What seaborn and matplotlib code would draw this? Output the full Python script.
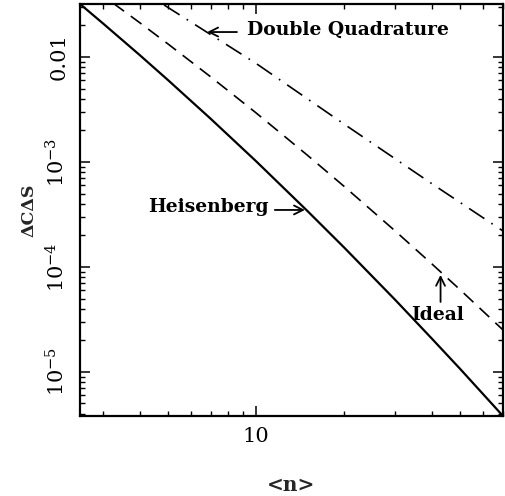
import numpy as np
import pandas as pd
import matplotlib
matplotlib.use("Agg")
import matplotlib.pyplot as plt
from matplotlib.ticker import LogLocator, NullFormatter, FixedLocator, FixedFormatter
import seaborn as sns

# ---- data ----
n_heis = [2.5, 3, 4, 5, 7, 10, 15, 20, 30, 40, 50, 70]
y_heis = [0.0320, 0.02084, 0.01045, 6.03e-3, 2.58e-3, 1.019e-3,
          3.41e-4, 1.537e-4, 4.83e-5, 2.07e-5, 1.064e-5, 3.8e-6]

n_ideal = [3.25, 4, 5, 7, 10, 15, 20, 30, 40, 50, 70]
y_ideal = [0.0325, 0.02125, 0.01332, 6.47e-3, 2.94e-3, 1.159e-3,
           5.87e-4, 2.19e-4, 1.067e-4, 6.04e-5, 2.51e-5]

n_dq = [4.85, 10, 20, 40, 70]
y_dq = [0.0313, 8.7e-3, 2.3e-3, 6.2e-4, 2.2e-4]

x_ticks = [10]
x_tick_labels = ["10"]
y_ticks = [1e-5, 1e-4, 1e-3, 1e-2]
y_tick_labels = ["$10^{-5}$", "$10^{-4}$", "$10^{-3}$", "0.01"]

sns.set_theme(style="ticks")
plt.rcParams["font.family"] = ["DejaVu Serif"]
plt.rcParams["mathtext.fontset"] = "dejavuserif"

W, H = 506, 496
fig = plt.figure(figsize=(W / 100, H / 100), dpi=100)
ax = fig.add_axes([80 / W, 1 - 416 / H, 423 / W, 412 / H])

df_h = pd.DataFrame({"n": n_heis, "v": y_heis})
df_i = pd.DataFrame({"n": n_ideal, "v": y_ideal})
df_d = pd.DataFrame({"n": n_dq, "v": y_dq})

sns.lineplot(data=df_h, x="n", y="v", ax=ax, color="black", lw=1.6,
             estimator=None, sort=False)
sns.lineplot(data=df_i, x="n", y="v", ax=ax, color="black", lw=1.2,
             linestyle=(0, (8, 5)), estimator=None, sort=False)
sns.lineplot(data=df_d, x="n", y="v", ax=ax, color="black", lw=1.2,
             linestyle=(0, (11, 5, 1, 5)), estimator=None, sort=False)

ax.set_xscale("log")
ax.set_yscale("log")
ax.set_xlim(2.5, 70)
ax.set_ylim(3.8e-6, 0.032)

ax.xaxis.set_major_locator(FixedLocator(x_ticks))
ax.xaxis.set_major_formatter(FixedFormatter(x_tick_labels))
ax.xaxis.set_minor_locator(LogLocator(base=10, subs=np.arange(2, 10), numticks=100))
ax.xaxis.set_minor_formatter(NullFormatter())
ax.yaxis.set_major_locator(FixedLocator(y_ticks))
ax.yaxis.set_major_formatter(FixedFormatter(y_tick_labels))
ax.yaxis.set_minor_locator(LogLocator(base=10, subs=np.arange(2, 10), numticks=100))
ax.yaxis.set_minor_formatter(NullFormatter())

ax.tick_params(which="both", direction="in", top=True, right=True,
               color="black", labelcolor="black")
ax.tick_params(which="major", length=7, width=1.1, labelsize=15, pad=8)
ax.tick_params(which="minor", length=3.6, width=1.0)
for lab in ax.get_yticklabels():
    lab.set_rotation(90)
    lab.set_va("center")
for s in ax.spines.values():
    s.set_linewidth(1.6)
    s.set_color("black")

ax.set_xlabel("<n>", fontsize=14.5, fontweight="bold")
ax.set_ylabel("ΔCΔS", fontsize=12.5, fontweight="bold")
ax.xaxis.set_label_coords(0.5, -(475 - 416) / 412)
ax.yaxis.set_label_coords(-(80 - 37) / 423, 0.5)

ann_kw = dict(fontsize=13.5, fontweight="bold", color="black")
arrow = dict(arrowstyle="->", color="black", lw=1.3, shrinkA=0, shrinkB=0,
             mutation_scale=16)

ax.text(9.31, 0.0181, "Double Quadrature", ha="left", va="center", **ann_kw)
ax.annotate("", xy=(6.81, 0.0173), xytext=(8.61, 0.0173), arrowprops=arrow)

ax.text(11.1, 3.34e-4, "Heisenberg", ha="right", va="baseline", **ann_kw)
ax.annotate("", xy=(14.7, 3.49e-4), xytext=(11.6, 3.49e-4), arrowprops=arrow)

ax.text(41.8, 3.13e-5, "Ideal", ha="center", va="baseline", **ann_kw)
ax.annotate("", xy=(42.8, 8.4e-5), xytext=(42.8, 4.64e-5), arrowprops=arrow)

fig.savefig("out.png", dpi=100, facecolor="white")
